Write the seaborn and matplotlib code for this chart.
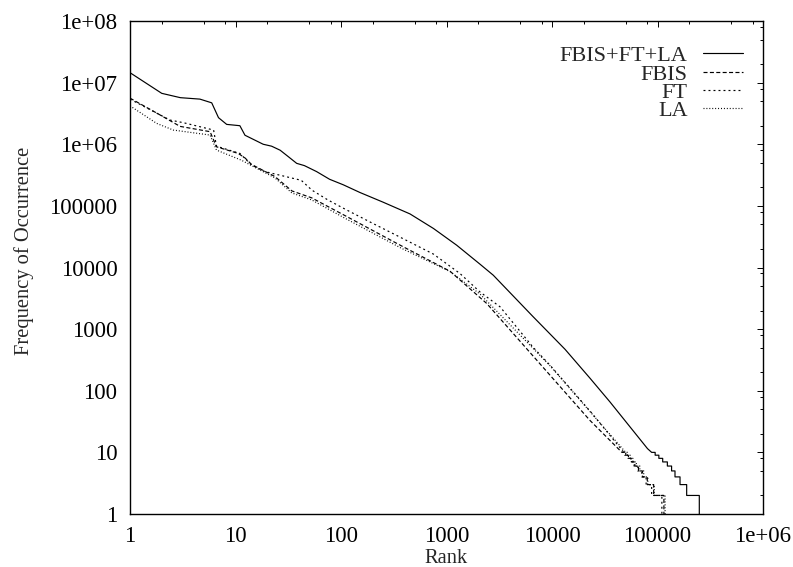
import numpy as np
import pandas as pd
import matplotlib
matplotlib.use("Agg")
import matplotlib.pyplot as plt
import seaborn as sns
from matplotlib.ticker import FixedLocator, FuncFormatter, NullFormatter

# ---------------- data ----------------
series_names = ["FBIS+FT+LA", "FBIS", "FT", "LA"]

all_rank = [1, 2, 3, 4.6, 5.95, 6.9, 8.25, 11, 12.3, 18.3, 22, 26.5, 32, 38, 45,
            58.7, 78, 105, 151, 250, 451, 752, 1249, 2080, 2775, 6600, 13300,
            22900, 35400, 80400, 88000]
all_freq = [1.45e7, 6.7e6, 5.7e6, 5.4e6, 4.7e6, 2.7e6, 2.1e6, 2.0e6, 1.4e6, 1.0e6,
            9.3e5, 8.0e5, 6.2e5, 4.9e5, 4.5e5, 3.6e5, 2.7e5, 2.2e5, 1.65e5, 1.15e5,
            7.4e4, 4.3e4, 2.3e4, 1.13e4, 7.5e3, 1.6e3, 470, 160, 66, 11.5, 10]
all_tail_end = [95000, 103000, 112000, 124000, 136000, 146500, 163500, 189000, 249000]

fbis_rank = [1, 1.92, 2.98, 5.74, 6.6, 10.6, 12.3, 14.2, 23.6, 34.2, 52.7, 110,
             364, 1080, 2410, 9570, 22900, 46000]
fbis_freq = [5.6e6, 3.0e6, 1.95e6, 1.6e6, 9.1e5, 7.1e5, 6.0e5, 4.7e5, 3.0e5, 1.75e5,
             1.35e5, 6.9e4, 2.3e4, 8.7e3, 2.6e3, 179, 33, 10]
fbis_tail_end = [49000, 52500, 56500, 61000, 66000, 72000, 80000, 92000, 115000]

ft_rank = [1, 2.39, 3.2, 6.2, 6.6, 11, 14.2, 19, 42, 53, 75, 110, 200, 364, 752,
           1340, 2080, 3220, 6600, 9570, 22900, 48000]
ft_freq = [5.4e6, 2.47e6, 2.24e6, 1.7e6, 9.3e5, 7.1e5, 4.6e5, 3.6e5, 2.6e5, 1.8e5,
           1.25e5, 8.8e4, 5.2e4, 3.1e4, 1.65e4, 8.0e3, 4.0e3, 2.3e3, 510, 260, 47, 10]
ft_tail_end = [50000, 53000, 56000, 60000, 65000, 71000, 78000, 88000, 110000]

la_rank = [1, 1.79, 2.57, 5.74, 6.6, 11.4, 14.2, 23.6, 34.2, 52.7, 109, 364, 1080,
           2080, 9570, 22900, 50000]
la_freq = [4.2e6, 2.18e6, 1.7e6, 1.41e6, 8.05e5, 5.5e5, 4.5e5, 2.85e5, 1.62e5,
           1.25e5, 6.3e4, 2.1e4, 8.6e3, 3.7e3, 255, 46, 10]
la_tail_end = [52000, 55000, 58500, 63000, 68000, 74000, 81000, 93000, 118000]

tail_freqs = [10, 9, 8, 7, 6, 5, 4, 3, 2]

x_ticks = [1, 10, 100, 1000, 10000, 100000, 1000000]
y_ticks = [1, 10, 100, 1000, 10000, 100000, 1000000, 10000000, 100000000]
minor_mult = [2, 5, 8]


def with_tail(rank, freq, ends):
    r, f = list(rank), list(freq)
    for fv, e in zip(tail_freqs, ends):
        r += [e, e]
        f += [fv, fv - 1]
    return r, f


frames = []
for name, (rk, fq, te) in zip(series_names, [(all_rank, all_freq, all_tail_end),
                                              (fbis_rank, fbis_freq, fbis_tail_end),
                                              (ft_rank, ft_freq, ft_tail_end),
                                              (la_rank, la_freq, la_tail_end)]):
    r, f = with_tail(rk, fq, te)
    frames.append(pd.DataFrame({"rank": r, "freq": f, "series": name}))
df = pd.concat(frames, ignore_index=True)

# ---------------- style ----------------
sns.set_style("white")
plt.rcParams["font.family"] = ["Liberation Serif", "DejaVu Serif"]
plt.rcParams["lines.scale_dashes"] = False
TICK_FS = 16.5
LEG_FS = 16
LAB_FS = 14.8

fig = plt.figure(figsize=(7.93, 5.67), dpi=100)
ax = fig.add_axes([130 / 793, 53 / 567, 633 / 793, 493 / 567])

dash_map = {"FBIS+FT+LA": "", "FBIS": (2.9, 1.7), "FT": (1.4, 2.2), "LA": (0.7, 1.4)}
sns.lineplot(data=df, x="rank", y="freq", hue="series", style="series",
             hue_order=series_names, style_order=series_names,
             palette={n: "black" for n in series_names}, dashes=dash_map,
             sort=False, estimator=None, legend=False, linewidth=0.85, ax=ax)

ax.set_xscale("log")
ax.set_yscale("log")
ax.set_xlim(x_ticks[0], x_ticks[-1])
ax.set_ylim(y_ticks[0], y_ticks[-1])


def fmt(v, pos):
    e = int(round(np.log10(v)))
    return str(int(10 ** e)) if e < 6 else f"1e+{e:02d}"


ax.xaxis.set_major_locator(FixedLocator(x_ticks))
ax.yaxis.set_major_locator(FixedLocator(y_ticks))
ax.xaxis.set_minor_locator(FixedLocator([m * t for t in x_ticks[:-1] for m in minor_mult]))
ax.yaxis.set_minor_locator(FixedLocator([m * t for t in y_ticks[:-1] for m in minor_mult]))
ax.xaxis.set_major_formatter(FuncFormatter(fmt))
ax.yaxis.set_major_formatter(FuncFormatter(fmt))
ax.xaxis.set_minor_formatter(NullFormatter())
ax.yaxis.set_minor_formatter(NullFormatter())

ax.tick_params(which="both", direction="in", top=True, right=True, colors="black",
               labelsize=TICK_FS, width=0.7)
ax.tick_params(which="major", length=4.5)
ax.tick_params(which="minor", length=2.5)
ax.tick_params(axis="y", which="major", pad=9)
ax.tick_params(axis="x", which="major", pad=8.5)
for s in ax.spines.values():
    s.set_linewidth(1.0)
    s.set_color("black")

ax.set_xlabel("Rank", fontsize=LAB_FS, va="center")
ax.set_ylabel("Frequency of Occurrence", fontsize=LAB_FS, va="center")
ax.xaxis.set_label_coords(0.5, -0.09)
ax.yaxis.set_label_coords(-0.168, 0.533)

ax.legend(ax.lines[:4], series_names, loc="upper right", bbox_to_anchor=(0.968, 0.950),
          frameon=False, markerfirst=False, handlelength=1.8, handletextpad=0.68,
          labelspacing=-0.1, borderpad=0, borderaxespad=0, fontsize=LEG_FS)

fig.savefig("out.png", dpi=100)
